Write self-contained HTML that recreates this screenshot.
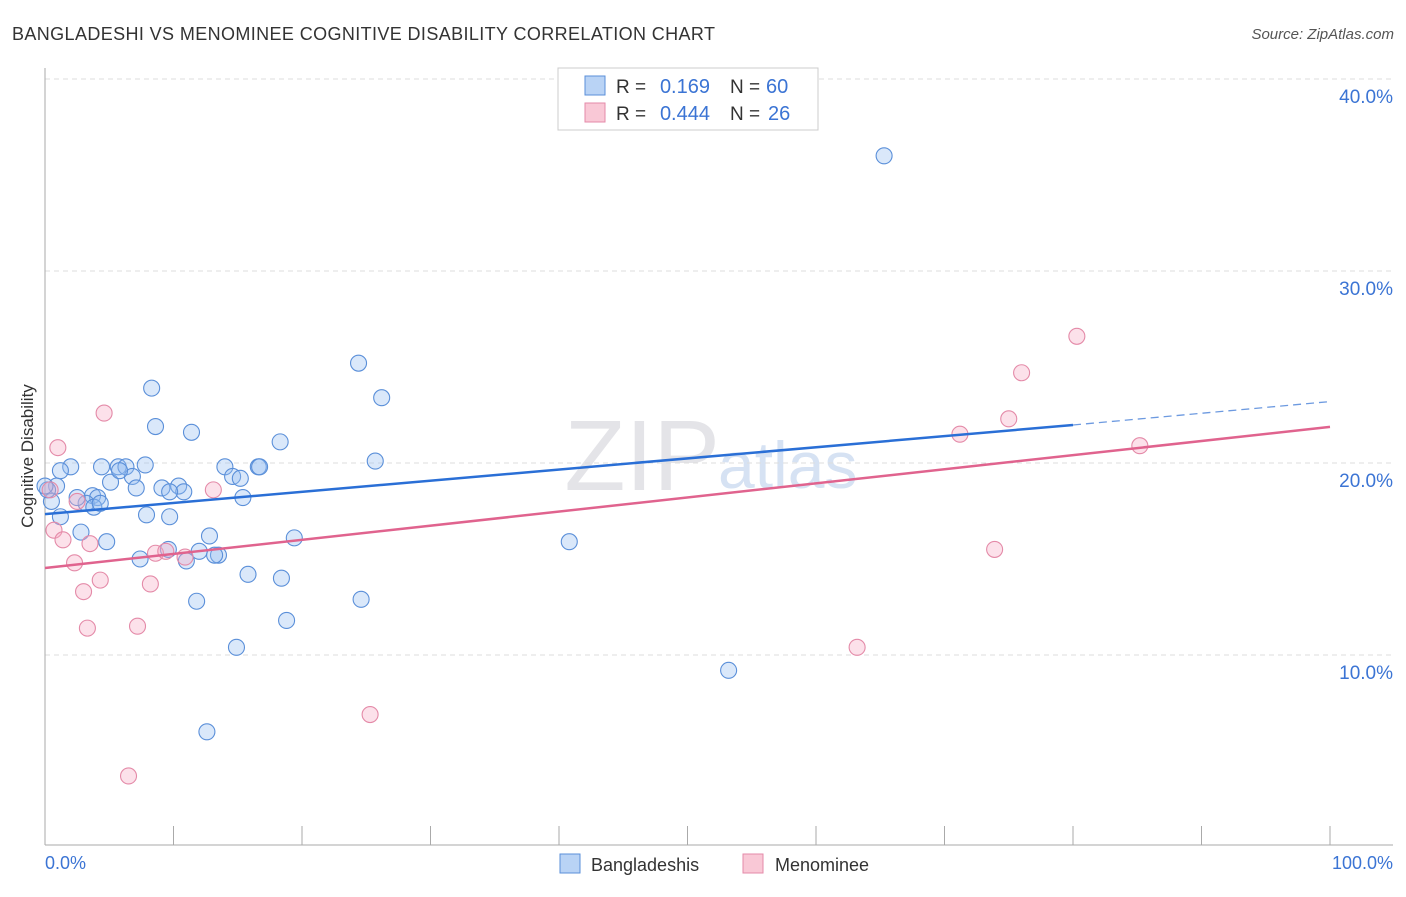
<!DOCTYPE html>
<html><head><meta charset="utf-8"><style>
body{margin:0;background:#fff;font-family:"Liberation Sans",sans-serif}
svg text{font-family:"Liberation Sans",sans-serif}
</style></head><body>
<svg width="1406" height="892" xmlns="http://www.w3.org/2000/svg">
<text x="12" y="40" font-size="18" fill="#333" textLength="703">BANGLADESHI VS MENOMINEE COGNITIVE DISABILITY CORRELATION CHART</text>
<text x="1394" y="39" font-size="15" fill="#555" text-anchor="end" font-style="italic">Source: ZipAtlas.com</text>
<text x="720" y="490" font-size="100" fill="#e4e4e8" text-anchor="end" font-family="Liberation Serif">ZIP</text>
<text x="718" y="488" font-size="66" fill="#d6e2f3">atlas</text>
<g id="grid"></g>
<g id="axes"></g>
<g id="pts"></g>
<g id="lines"></g>
<text transform="translate(33,456) rotate(-90)" font-size="17" fill="#333" text-anchor="middle">Cognitive Disability</text>
<text x="45" y="869" font-size="18" fill="#3b74d4">0.0%</text>
<text x="1393" y="869" font-size="18" fill="#3b74d4" text-anchor="end">100.0%</text>
<g>
<rect x="558" y="68" width="260" height="62" fill="#fff" stroke="#ccc"/>
<rect x="585" y="76" width="20" height="19" fill="#b9d3f5" stroke="#5a8fd9"/>
<rect x="585" y="103" width="20" height="19" fill="#f9c8d6" stroke="#e48aa8"/>
<text x="616" y="93" font-size="19" fill="#333">R =</text>
<text x="710" y="93" font-size="20" fill="#3b74d4" text-anchor="end">0.169</text>
<text x="730" y="93" font-size="19" fill="#333">N =</text>
<text x="766" y="93" font-size="20" fill="#3b74d4">60</text>
<text x="616" y="120" font-size="19" fill="#333">R =</text>
<text x="710" y="120" font-size="20" fill="#3b74d4" text-anchor="end">0.444</text>
<text x="730" y="120" font-size="19" fill="#333">N =</text>
<text x="768" y="120" font-size="20" fill="#3b74d4">26</text>
</g>
<g>
<rect x="560" y="854" width="20" height="19" fill="#b9d3f5" stroke="#5a8fd9"/>
<text x="591" y="871" font-size="18" fill="#333">Bangladeshis</text>
<rect x="743" y="854" width="20" height="19" fill="#f9c8d6" stroke="#e48aa8"/>
<text x="775" y="871" font-size="18" fill="#333">Menominee</text>
</g>
</svg>
<script>
const yTicks=[10,20,30,40];
const blueX=[65.3,24.4,8.3,26.2,8.6,11.4,18.3,25.7,2.0,4.4,5.7,6.3,7.8,14.0,16.6,16.7,0.9,5.1,6.8,7.1,9.1,10.4,10.8,9.7,14.6,15.2,15.4,3.7,4.1,3.2,0.5,0.2,1.2,3.8,7.9,9.7,2.8,4.8,12.8,19.4,40.8,9.6,12.0,13.5,13.2,7.4,11.0,15.8,18.4,11.8,24.6,18.8,14.9,53.2,12.6,0.0,4.3,2.5,5.8,1.2];
const blueY=[36.0,25.2,23.9,23.4,21.9,21.6,21.1,20.1,19.8,19.8,19.8,19.8,19.9,19.8,19.8,19.8,18.8,19.0,19.3,18.7,18.7,18.8,18.5,18.5,19.3,19.2,18.2,18.3,18.2,17.9,18.0,18.6,17.2,17.7,17.3,17.2,16.4,15.9,16.2,16.1,15.9,15.5,15.4,15.2,15.2,15.0,14.9,14.2,14.0,12.8,12.9,11.8,10.4,9.2,6.0,18.8,17.9,18.2,19.6,19.6];
const pinkX=[80.3,76.0,4.6,75.0,1.0,71.2,85.2,13.1,2.5,0.7,1.4,3.5,8.6,9.4,10.9,73.9,2.3,4.3,8.2,3.0,7.2,3.3,63.2,25.3,6.5,0.4];
const pinkY=[26.6,24.7,22.6,22.3,20.8,21.5,20.9,18.6,18.0,16.5,16.0,15.8,15.3,15.4,15.1,15.5,14.8,13.9,13.7,13.3,11.5,11.4,10.4,6.9,3.7,18.6];
const blueLine=[[0,17.34],[80,21.98],[100,23.2]];
const pinkLine=[[0,14.53],[100,21.88]];
const X=v=>45+v*12.85, Y=v=>847-v*19.2;
const NS="http://www.w3.org/2000/svg";
function mk(t,a,p){const e=document.createElementNS(NS,t);for(const k in a)e.setAttribute(k,a[k]);document.getElementById(p).appendChild(e);return e;}
yTicks.forEach(t=>{
 const g=mk('line',{x1:45,x2:1393,y1:Y(t),y2:Y(t),stroke:'#ddd','stroke-dasharray':'5,4'},'grid');
 
 
 const l=mk('text',{x:1393,y:Y(t)+24,'font-size':19,fill:'#3b74d4','text-anchor':'end'},'grid');
 l.textContent=t.toFixed(1)+'%';
 
 
});
const ya=mk('line',{x1:45,x2:45,y1:68,y2:845,stroke:'#aaa'},'axes');


const xa=mk('line',{x1:45,x2:1393,y1:845,y2:845,stroke:'#aaa'},'axes');


for(let i=0;i<=10;i++){const t=mk('line',{x1:X(i*10),x2:X(i*10),y1:826,y2:845,stroke:'#aaa'},'axes');
 
 }
blueX.forEach((v,i)=>{const c=mk('circle',{cx:X(v),cy:Y(blueY[i]),r:8,fill:'rgba(150,190,240,0.35)',stroke:'#5a8fd9','stroke-width':1.1},'pts');
 
 });
pinkX.forEach((v,i)=>{const c=mk('circle',{cx:X(v),cy:Y(pinkY[i]),r:8,fill:'rgba(245,170,195,0.35)',stroke:'#e48aa8','stroke-width':1.1},'pts');
 
 });
const b1=mk('line',{x1:X(blueLine[0][0]),y1:Y(blueLine[0][1]),x2:X(blueLine[1][0]),y2:Y(blueLine[1][1]),stroke:'#2a6fd6','stroke-width':2.5},'lines');


const b2=mk('line',{x1:X(blueLine[1][0]),y1:Y(blueLine[1][1]),x2:X(blueLine[2][0]),y2:Y(blueLine[2][1]),stroke:'#6d9ae0','stroke-width':1.3,'stroke-dasharray':'8,5'},'lines');


const p1=mk('line',{x1:X(pinkLine[0][0]),y1:Y(pinkLine[0][1]),x2:X(pinkLine[1][0]),y2:Y(pinkLine[1][1]),stroke:'#e0638e','stroke-width':2.5},'lines');


</script>
</body></html>
